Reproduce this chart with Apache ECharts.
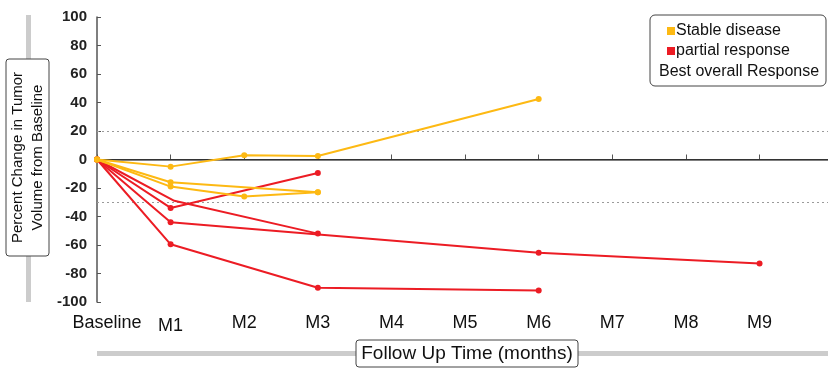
<!DOCTYPE html>
<html>
<head>
<meta charset="utf-8">
<script src="https://cdn.jsdelivr.net/npm/echarts@6/dist/echarts.min.js"></script>
<style>
html,body{margin:0;padding:0;background:#fff;}
#c{width:828px;height:368px;}
</style>
</head>
<body>
<div id="c"></div>
<script>
// ---- data ----
var xLabels = ['Baseline','M1','M2','M3','M4','M5','M6','M7','M8','M9'];
var yTicks = [-100,-80,-60,-40,-20,0,20,40,60,80,100];
var refLines = [20, -30];

// Stable disease series (month index, percent change)
var sd1Months = [0, 1, 2, 3, 6];
var sd1Values = [0, -5, 3, 2.5, 42.5];
var sd2Months = [0, 1, 3];
var sd2Values = [0, -16, -23];
var sd3Months = [0, 1, 2, 3];
var sd3Values = [0, -19, -26, -23];

// Partial response series
var pr1Months = [0, 1, 3];
var pr1Values = [0, -34, -9.5];
var pr2Months = [0, 1.05, 3];
var pr2Values = [0, -29, -52];
var pr3Months = [0, 1, 6, 9];
var pr3Values = [0, -44, -65.5, -73];
var pr4Months = [0, 1, 3, 6];
var pr4Values = [0, -59.5, -90, -92];

var YELLOW = '#FDB913';
var RED = '#EC1C24';
var FONT = '"Liberation Sans", Arial, Helvetica, sans-serif';

function pairs(ms, vs, hideIdx) {
  return ms.map(function (m, i) {
    var item = { value: [m, vs[i]] };
    if (hideIdx && hideIdx.indexOf(i) >= 0) item.symbolSize = 0;
    return item;
  });
}
function mkSeries(name, color, data, z) {
  return {
    name: name, type: 'line', data: data, color: color,
    symbol: 'circle', symbolSize: 6, z: z,
    lineStyle: { width: 2, color: color },
    itemStyle: { color: color },
    emphasis: { disabled: true }, animation: false
  };
}

var series = [
  mkSeries('partial response', RED, pairs(pr1Months, pr1Values), 3),
  mkSeries('partial response', RED, pairs(pr2Months, pr2Values, [1]), 3),
  mkSeries('partial response', RED, pairs(pr3Months, pr3Values), 3),
  mkSeries('partial response', RED, pairs(pr4Months, pr4Values), 3),
  mkSeries('Stable disease', YELLOW, pairs(sd1Months, sd1Values), 4),
  mkSeries('Stable disease', YELLOW, pairs(sd2Months, sd2Values), 4),
  mkSeries('Stable disease', YELLOW, pairs(sd3Months, sd3Values), 4)
];
series[0].markLine = {
  silent: true, symbol: 'none', animation: false, z: 1,
  label: { show: false },
  data: [{ yAxis: 0, lineStyle: { color: '#333', type: 'solid', width: 1 } }].concat(
    refLines.map(function (v) {
      return { yAxis: v, lineStyle: { color: '#9a9a9a', type: [2, 3], width: 1 } };
    })
  )
};

var chart = echarts.init(document.getElementById('c'), null, { renderer: 'canvas' });
chart.setOption({
  animation: false,
  backgroundColor: '#fff',
  textStyle: { fontFamily: FONT },
  grid: { left: 97, right: 0, top: 17, bottom: 66, containLabel: false },
  legend: {
    orient: 'vertical', left: 667, top: 23,
    data: ['Stable disease', 'partial response'],
    icon: 'rect', itemWidth: 8, itemHeight: 8, itemGap: 4,
    textStyle: { fontSize: 16, color: '#111', fontFamily: FONT, padding: [0, 0, 0, -4] },
    selectedMode: false, padding: 0
  },
  xAxis: {
    type: 'value', min: 0, max: 9.93, interval: 1,
    axisLine: { show: true, lineStyle: { color: '#555', width: 1.5 } },
    axisTick: { show: true, inside: true, length: 5, lineStyle: { color: '#555' } },
    splitLine: { show: false },
    axisLabel: {
      fontSize: 18, color: '#111', margin: 12, fontFamily: FONT,
      showMaxLabel: false,
      formatter: function (v) {
        if (v !== Math.round(v) || v > 9) return '';
        if (v === 0) return '{b|' + xLabels[0] + '}';
        if (v === 1) return '{m|' + xLabels[1] + '}';
        return xLabels[v];
      },
      rich: {
        b: { fontSize: 18, color: '#111', fontFamily: FONT, padding: [0, 0, 0, 20] },
        m: { fontSize: 18, color: '#111', fontFamily: FONT, padding: [3, 0, 0, 0] }
      }
    }
  },
  yAxis: {
    type: 'value', min: yTicks[0], max: yTicks[yTicks.length - 1], interval: 20,
    axisLine: { show: true, lineStyle: { color: '#555', width: 1.5 } },
    axisTick: { show: true, inside: true, length: 4, lineStyle: { color: '#555' } },
    splitLine: { show: false },
    axisLabel: { fontSize: 15, fontWeight: 'bold', color: '#222', margin: 10, fontFamily: FONT }
  },
  series: series,
  graphic: [
    // y title: gray bar + box
    { type: 'rect', shape: { x: 26, y: 15, width: 5, height: 287 }, style: { fill: '#cccccc' }, z: 0 },
    { type: 'rect', shape: { x: 6, y: 59, width: 43, height: 197, r: 3 }, style: { fill: '#fff', stroke: '#444', lineWidth: 1 }, z: 1 },
    { type: 'text', x: 27.5, y: 157.5, rotation: Math.PI / 2, z: 2,
      style: { text: 'Percent Change in Tumor\nVolume from Baseline', font: '15px ' + FONT, fill: '#111',
               textAlign: 'center', textVerticalAlign: 'middle', lineHeight: 20 } },
    // x title: gray bar + box
    { type: 'rect', shape: { x: 97, y: 351, width: 731, height: 5 }, style: { fill: '#cccccc' }, z: 0 },
    { type: 'rect', shape: { x: 356, y: 340, width: 222, height: 27, r: 3 }, style: { fill: '#fff', stroke: '#444', lineWidth: 1 }, z: 1 },
    { type: 'text', x: 467, y: 354, z: 2,
      style: { text: 'Follow Up Time (months)', font: '19px ' + FONT, fill: '#111', textAlign: 'center', textVerticalAlign: 'middle' } },
    // legend box + third line
    { type: 'rect', shape: { x: 650, y: 15, width: 176, height: 71, r: 5 }, style: { fill: 'rgba(255,255,255,0)', stroke: '#444', lineWidth: 1 }, z: 5 },
    { type: 'text', x: 659, y: 71.5, z: 6,
      style: { text: 'Best overall Response', font: '16px ' + FONT, fill: '#111', textVerticalAlign: 'middle' } }
  ]
});
</script>
</body>
</html>
